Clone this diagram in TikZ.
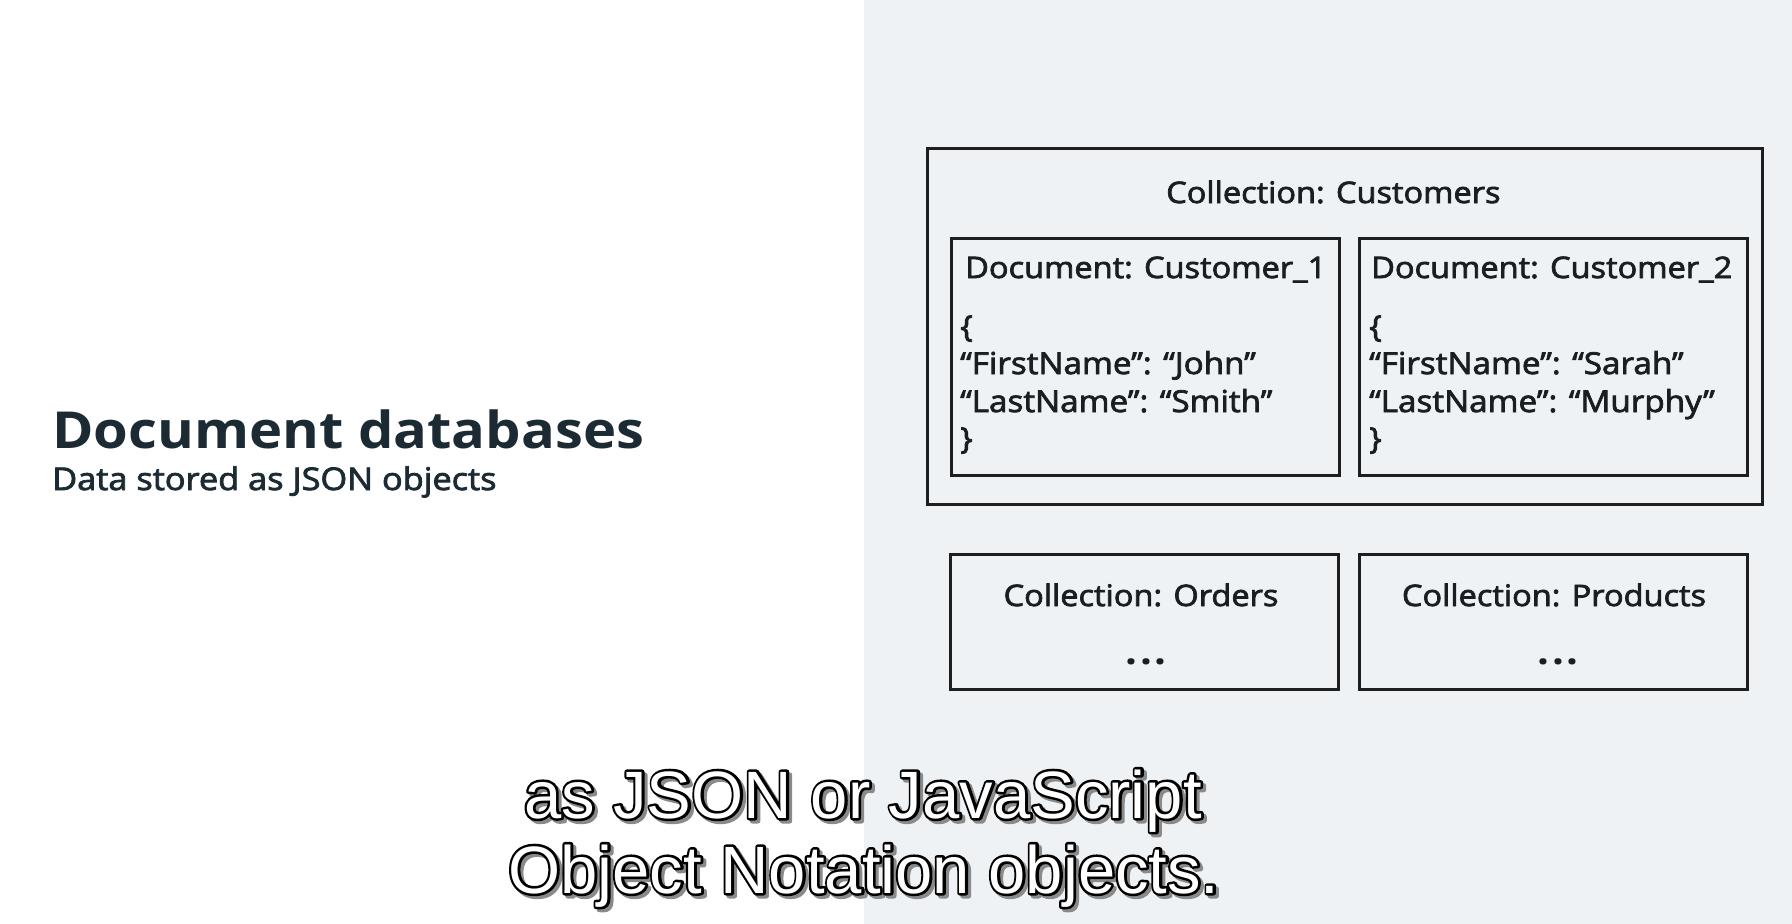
\documentclass[tikz,border=0pt]{standalone}
\usepackage{fontspec}
\setmainfont{Open Sans}[FakeStretch=1.1]
\newfontfamily\medfont{Open Sans}[FakeStretch=1.1, FakeBold=2.5]
\newfontfamily\capfont{Liberation Sans}
\definecolor{panel}{HTML}{EFF2F5}
\definecolor{ink}{HTML}{1C2B33}
\definecolor{lblink}{HTML}{1A1D21}
\definecolor{boxline}{HTML}{1E1E1E}
\definecolor{shadowgray}{HTML}{8A8A8A}
\newcommand\capline[1]{%
  \makebox[0pt][l]{\hspace{3pt}\raisebox{-3pt}{\special{pdf:literal direct 2 Tr 5 w 1 j}\textcolor{shadowgray}{#1}\special{pdf:literal direct 0 Tr}}}%
  \makebox[0pt][l]{\special{pdf:literal direct 1 Tr 5 w 1 j}\textcolor{black}{#1}\special{pdf:literal direct 0 Tr}}%
  \textcolor{white}{#1}}
\tikzset{
  box/.style={draw=boxline, line width=2.6pt, fill=panel, anchor=north west, inner sep=0pt},
  lbl/.style={text=lblink, inner sep=0pt, font=\medfont\fontsize{29.6}{36}\selectfont},
  json/.style={lbl, anchor=base west, font=\medfont\fontsize{30.2}{36}\selectfont},
  dots/.style={text=lblink, inner sep=0pt, anchor=base, font=\bfseries\fontsize{38}{40}\selectfont},
  captext/.style={inner sep=0pt, anchor=base, font=\capfont\fontsize{67}{72}\selectfont},
}
\begin{document}
\begin{tikzpicture}[x=1pt,y=-1pt]
\useasboundingbox (0,0) rectangle (1792,924);
\fill[white] (0,0) rectangle (864,924);
\fill[panel] (864,0) rectangle (1792,924);

% left title
\node[text=ink, inner sep=0pt, anchor=base west, font=\bfseries\fontsize{51}{56}\selectfont] (title) at (52,448) {Document databases};
\node[text=ink, inner sep=0pt, anchor=base west, font=\medfont\fontsize{31.2}{34}\selectfont] (subtitle) at (52,490) {Data stored as JSON objects};

% boxes
\node[box, minimum width=835pt, minimum height=356pt] (cust) at (926,147) {};
\node[box, minimum width=388pt, minimum height=237pt] (doca) at (950,237) {};
\node[box, minimum width=388pt, minimum height=237pt] (docb) at (1358,237) {};
\node[box, minimum width=388pt, minimum height=135pt] (orders) at (949,553) {};
\node[box, minimum width=388pt, minimum height=135pt] (products) at (1358,553) {};

% labels
\node[lbl, anchor=base west] (custlbl) at (1166,203) {Collection: Customers};
\node[lbl, anchor=base west] (docalbl) at (965,278) {Document: Customer\_1};
\node[lbl, anchor=base west] (docblbl) at (1371,278) {Document: Customer\_2};

\node[json] (a1) at (960,337) {\{};
\node[json] (a2) at (960,374) {“FirstName”: “John”};
\node[json] (a3) at (960,412) {“LastName”: “Smith”};
\node[json] (a4) at (960,449) {\}};

\node[json] (b1) at (1369,337) {\{};
\node[json] (b2) at (1369,374) {“FirstName”: “Sarah”};
\node[json] (b3) at (1369,412) {“LastName”: “Murphy”};
\node[json] (b4) at (1369,449) {\}};

\node[lbl, anchor=base] (ordlbl) at (1141,606) {Collection: Orders};
\node[lbl, anchor=base] (prdlbl) at (1554,606) {Collection: Products};
\node[dots] (orddots) at (1146,664) {.\hspace{3pt}.\hspace{3pt}.};
\node[dots] (prddots) at (1558,664) {.\hspace{3pt}.\hspace{3pt}.};

% caption with shadow and outline
\node[captext] (cap1) at (863,818) {\capline{as JSON or JavaScript}};
\node[captext] (cap2) at (864,893) {\capline{Object Notation objects.}};
\end{tikzpicture}
\end{document}
